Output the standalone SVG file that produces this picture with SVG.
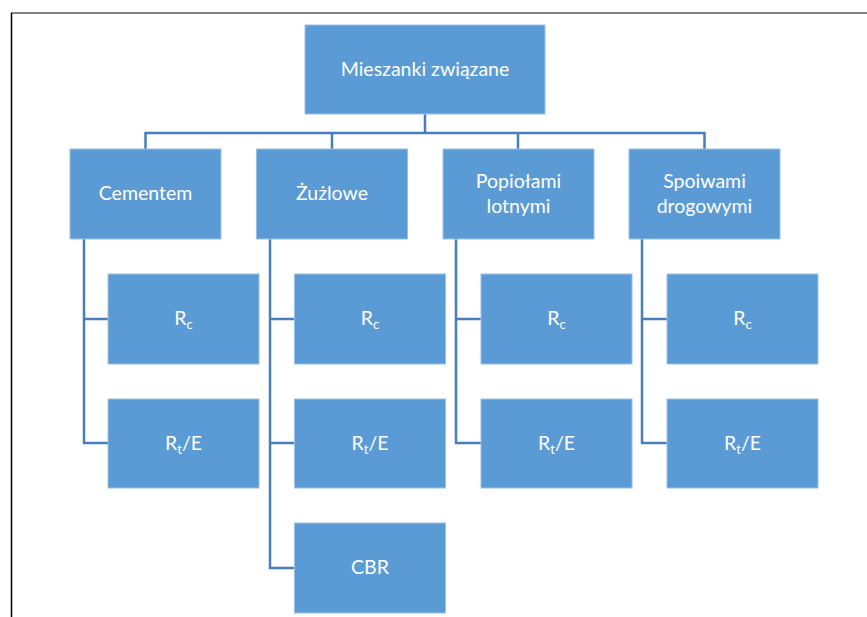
<svg xmlns="http://www.w3.org/2000/svg" width="867" height="617" viewBox="0 0 867 617">
  <style>
    .box { fill: #5b9bd5; stroke: #9cc1e6; stroke-width: 1; }
    .lbl { font-family: Lato, "Liberation Sans", sans-serif; font-size: 19.5px; fill: #ffffff; text-anchor: middle; }
    .sub { font-size: 13px; }
    .conn { fill: none; stroke: #4a7ebb; stroke-width: 2.5; }
  </style>
  <rect x="0" y="0" width="867" height="617" fill="#ffffff"/>
  <!-- page frame -->
  <line x1="11" y1="13" x2="867" y2="13" stroke="#808080" stroke-width="2"/>
  <line x1="11.5" y1="13" x2="11.5" y2="617" stroke="#000000" stroke-width="1.5"/>

  <g id="connectors">
    <path class="conn" d="M425,114 V133 M145.5,149 V133 H704.5 V149 M332,133 V149 M518,133 V149"/>
    <path class="conn" d="M84,239 V443 H108 M84,319 H108"/>
    <path class="conn" d="M270,239 V568 H294 M270,319 H294 M270,443 H294"/>
    <path class="conn" d="M456,239 V443 H481 M456,319 H481"/>
    <path class="conn" d="M642,239 V443 H667 M642,319 H667"/>
  </g>

  <g id="root">
    <rect class="box" x="305" y="25" width="240" height="89"/>
    <text class="lbl" x="425" y="76">Mieszanki związane</text>
  </g>

  <g id="cementem">
    <rect class="box" x="70" y="149" width="151" height="90"/>
    <text class="lbl" x="145.5" y="200">Cementem</text>
  </g>
  <g id="zuzlowe">
    <rect class="box" x="256.5" y="149" width="151" height="90"/>
    <text class="lbl" x="332" y="200">Żużlowe</text>
  </g>
  <g id="popiolami">
    <rect class="box" x="443" y="149" width="151" height="90"/>
    <text class="lbl" x="518.5" y="188">Popiołami</text>
    <text class="lbl" x="518.5" y="213">lotnymi</text>
  </g>
  <g id="spoiwami">
    <rect class="box" x="629" y="149" width="151" height="90"/>
    <text class="lbl" x="704.5" y="188">Spoiwami</text>
    <text class="lbl" x="704.5" y="213">drogowymi</text>
  </g>

  <g id="cementem-rc">
    <rect class="box" x="108" y="274" width="151" height="90"/>
    <text class="lbl" x="183.5" y="325">R<tspan class="sub" dy="4">c</tspan></text>
  </g>
  <g id="cementem-rte">
    <rect class="box" x="108" y="399" width="151" height="89"/>
    <text class="lbl" x="183.5" y="450">R<tspan class="sub" dy="4">t</tspan><tspan dy="-4">/E</tspan></text>
  </g>

  <g id="zuzlowe-rc">
    <rect class="box" x="294.5" y="274" width="151" height="90"/>
    <text class="lbl" x="370" y="325">R<tspan class="sub" dy="4">c</tspan></text>
  </g>
  <g id="zuzlowe-rte">
    <rect class="box" x="294.5" y="399" width="151" height="89"/>
    <text class="lbl" x="370" y="450">R<tspan class="sub" dy="4">t</tspan><tspan dy="-4">/E</tspan></text>
  </g>
  <g id="zuzlowe-cbr">
    <rect class="box" x="294.5" y="523" width="151" height="90"/>
    <text class="lbl" x="370" y="574">CBR</text>
  </g>

  <g id="popiolami-rc">
    <rect class="box" x="481" y="274" width="151" height="90"/>
    <text class="lbl" x="556.5" y="325">R<tspan class="sub" dy="4">c</tspan></text>
  </g>
  <g id="popiolami-rte">
    <rect class="box" x="481" y="399" width="151" height="89"/>
    <text class="lbl" x="556.5" y="450">R<tspan class="sub" dy="4">t</tspan><tspan dy="-4">/E</tspan></text>
  </g>

  <g id="spoiwami-rc">
    <rect class="box" x="667" y="274" width="151" height="90"/>
    <text class="lbl" x="742.5" y="325">R<tspan class="sub" dy="4">c</tspan></text>
  </g>
  <g id="spoiwami-rte">
    <rect class="box" x="667" y="399" width="151" height="89"/>
    <text class="lbl" x="742.5" y="450">R<tspan class="sub" dy="4">t</tspan><tspan dy="-4">/E</tspan></text>
  </g>
</svg>
